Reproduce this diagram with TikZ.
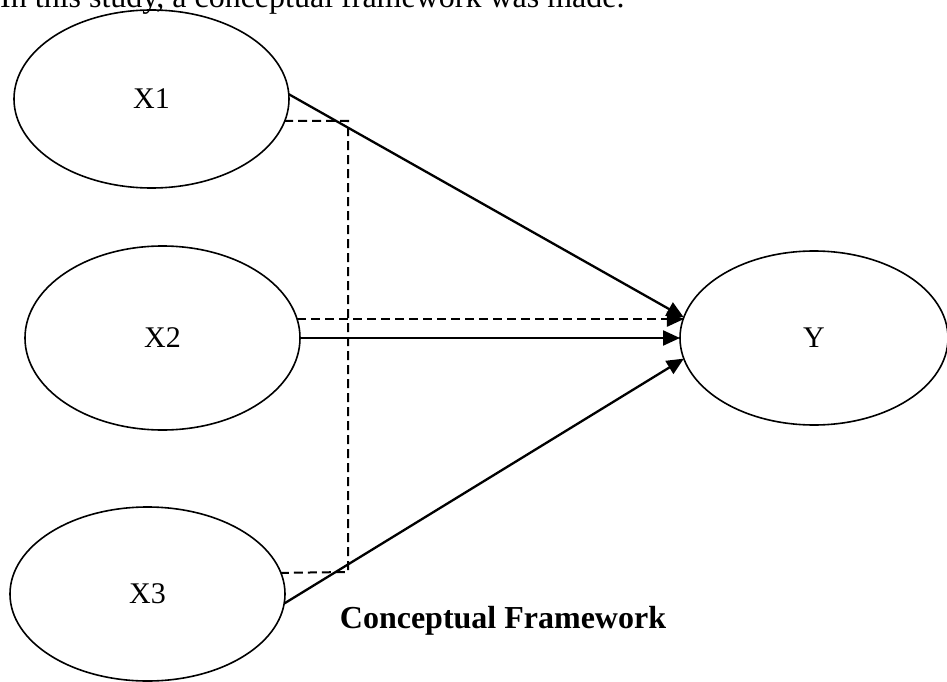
\documentclass[tikz,border=0pt]{standalone}
\usepackage{fontspec}
\setmainfont{Liberation Serif}
\usetikzlibrary{arrows.meta,shapes.geometric}
\tikzset{
  var/.style={draw, ellipse, line width=1.6bp, inner sep=0pt, outer sep=0pt,
    font=\fontsize{30bp}{36bp}\selectfont},
  link/.style={line width=2.3bp, -{Triangle[length=17bp,width=15bp]}},
  dashlink/.style={line width=2bp, dash pattern=on 9bp off 5bp},
  txt/.style={inner sep=0pt, font=\fontsize{32bp}{38bp}\selectfont}
}
\begin{document}
\begin{tikzpicture}[x=1bp,y=-1bp]
\useasboundingbox (0,0) rectangle (947,682);
\clip (0,0) rectangle (947,682);
\fill[white] (0,0) rectangle (947,682);
\node[txt, anchor=base west] (intro) at (0,7.5) {In this study, a conceptual framework was made.};
\node[var, minimum width=275bp, minimum height=178bp] (x1) at (151.5,99) {X1};
\node[var, minimum width=275bp, minimum height=184bp] (x2) at (162.5,338) {X2};
\node[var, minimum width=275bp, minimum height=174bp] (x3) at (147.5,594) {X3};
\node[var, minimum width=268bp, minimum height=174bp] (y) at (814,338) {Y};
\node[txt, font=\fontsize{32bp}{38bp}\selectfont\bfseries, anchor=base] (cap) at (503,628) {Conceptual Framework};
\coordinate (v1) at (348,121);
\coordinate (v3) at (348,572);
\draw[dashlink] (x1.-9) -- (v1 -| x1.-9) -- (v1) -- (v3) -- (x3.9);
\draw[dashlink] (x2.8) -- (x2.8 -| y.171);
\draw[link] (x2.8 -| y.171) ++(-2,0) -- (x2.8 -| y.171);
\draw[link] (x1.2) -- (y.171);
\draw[link] (x2.east) -- (y.west);
\draw[link] (x3.-4) -- (y.189);
\end{tikzpicture}
\end{document}
